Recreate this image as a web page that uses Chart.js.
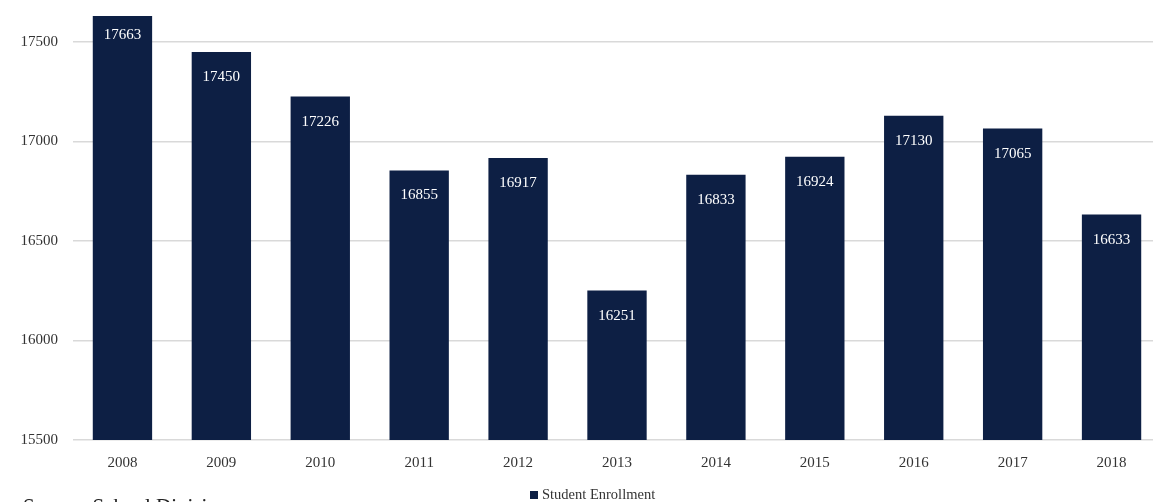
<!DOCTYPE html>
<html>
<head>
<meta charset="utf-8">
<script src="https://cdn.jsdelivr.net/npm/chart.js@4"></script>
<style>
  html, body { margin: 0; padding: 0; background: #fff; overflow: hidden; }
  #wrap { width: 1162px; height: 502px; }
</style>
</head>
<body>
<div id="wrap"><canvas id="enrollChart"></canvas></div>
<script>
// Datele graficului
const years = ['2008', '2009', '2010', '2011', '2012', '2013', '2014', '2015', '2016', '2017', '2018'];
const enrollment = [17663, 17450, 17226, 16855, 16917, 16251, 16833, 16924, 17130, 17065, 16633];
const yTicks = [15500, 16000, 16500, 17000, 17500];
const seriesName = 'Student Enrollment';
const sourceNote = 'Source: School Division';

const navy = '#0d1f44';
const serif = "'Liberation Serif', 'DejaVu Serif', serif";

// Valorile scrise in interiorul barelor + legenda si sursa
const barLabels = {
    id: 'barLabels',
    afterDatasetsDraw(chart) {
        const ctx = chart.ctx;
        const meta = chart.getDatasetMeta(0);
        ctx.save();
        ctx.fillStyle = '#ffffff';
        ctx.font = '15px ' + serif;
        ctx.textAlign = 'center';
        ctx.textBaseline = 'middle';
        meta.data.forEach((bar, i) => {
            const y = chart.scales.y.getPixelForValue(enrollment[i]);
            ctx.fillText(String(enrollment[i]), bar.x, y + 25);
        });
        ctx.restore();
    },
    afterDraw(chart) {
        const ctx = chart.ctx;
        ctx.save();
        // legenda
        ctx.fillStyle = navy;
        ctx.fillRect(530, 491, 8, 8);
        ctx.fillStyle = '#333333';
        ctx.font = '14.5px ' + serif;
        ctx.textBaseline = 'alphabetic';
        ctx.textAlign = 'left';
        ctx.fillText(seriesName, 542, 499);
        // sursa (taiata jos)
        ctx.font = '21px ' + serif;
        ctx.fillStyle = '#222222';
        ctx.fillText(sourceNote, 23, 513);
        ctx.restore();
    }
};

const config = {
    type: 'bar',
    data: {
        labels: years,
        datasets: [{
            label: seriesName,
            data: enrollment,
            backgroundColor: navy,
            borderWidth: 0,
            categoryPercentage: 1.0,
            barPercentage: 0.6
        }]
    },
    options: {
        responsive: true,
        maintainAspectRatio: false,
        animation: false,
        layout: { padding: { top: 16, right: 1, bottom: 0, left: 0 } },
        plugins: {
            legend: { display: false },
            tooltip: { enabled: false }
        },
        scales: {
            x: {
                grid: { display: false },
                border: { display: false },
                ticks: {
                    color: '#333333',
                    font: { family: serif, size: 15 },
                    padding: 6
                },
                afterFit: (scale) => { scale.height = 62; }
            },
            y: {
                min: 15500,
                max: 17631,
                afterBuildTicks: (scale) => {
                    scale.ticks = yTicks.map(v => ({ value: v }));
                },
                grid: {
                    color: '#d9d9d9',
                    lineWidth: 1.5,
                    drawTicks: false
                },
                border: { display: false },
                ticks: {
                    color: '#333333',
                    font: { family: serif, size: 15 },
                    padding: 15,
                    callback: (v) => String(v)
                },
                afterFit: (scale) => {
                    scale.width = 73;
                    scale.paddingTop = 0;
                    scale.paddingBottom = 0;
                }
            }
        }
    },
    plugins: [barLabels]
};

const ctx = document.getElementById('enrollChart').getContext('2d');
new Chart(ctx, config);
</script>
</body>
</html>
